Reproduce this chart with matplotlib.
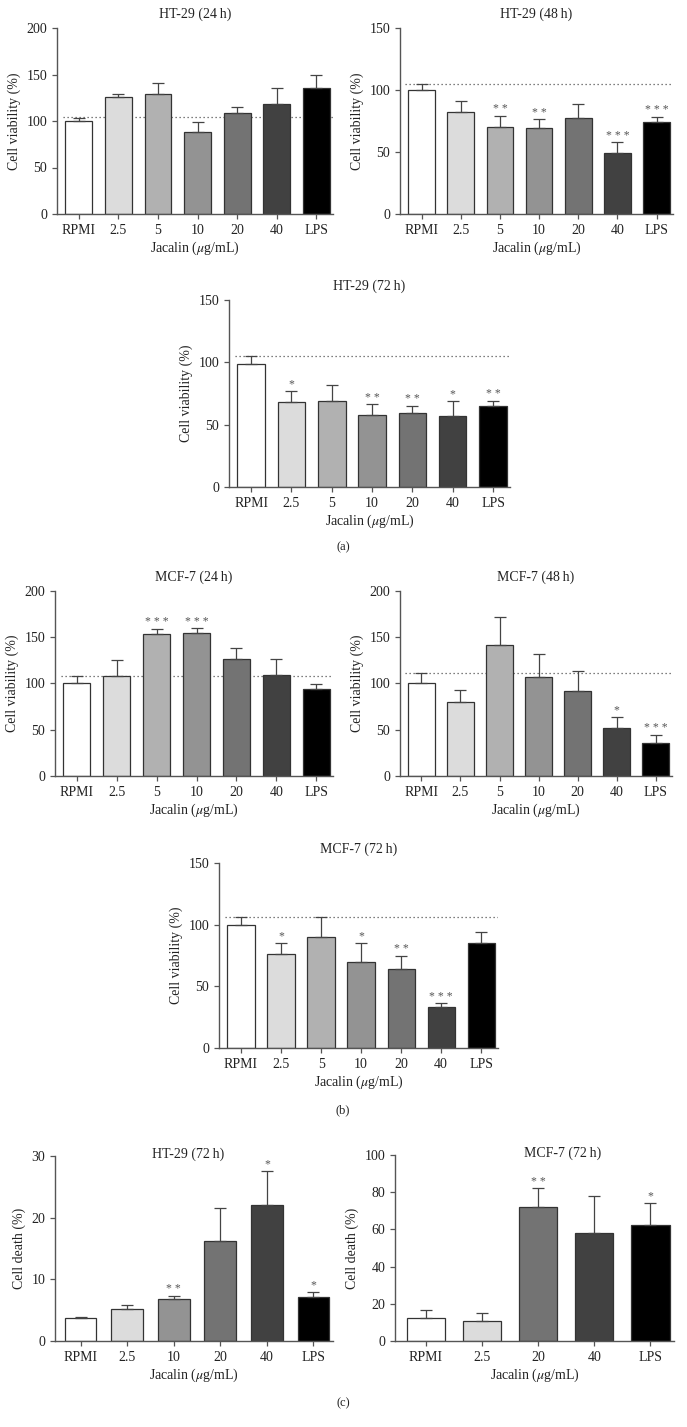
import numpy as np
import matplotlib
matplotlib.use('Agg')
import matplotlib.pyplot as plt

plt.rcParams['font.family'] = ['Liberation Serif', 'DejaVu Serif']
plt.rcParams['mathtext.fontset'] = 'stix'

# categories
cats_v = ['RPMI', '2.5', '5', '10', '20', '40', 'LPS']
cats_d1 = ['RPMI', '2.5', '10', '20', '40', 'LPS']
cats_d2 = ['RPMI', '2.5', '20', '40', 'LPS']

# (a) HT-29 viability
ht29_24_mean = [100, 126, 129, 88, 109, 118, 136]
ht29_24_err = [3, 3, 12, 11, 6, 18, 13]
ht29_24_sig = ['', '', '', '', '', '', '']
ht29_24_ref = 104

ht29_48_mean = [100, 82, 70, 69.5, 77.5, 49, 74.3]
ht29_48_err = [5, 9, 9, 7, 11, 9, 4]
ht29_48_sig = ['', '', '**', '**', '', '***', '***']
ht29_48_ref = 105

ht29_72_mean = [99, 68, 69, 57.5, 59, 57.3, 65]
ht29_72_err = [6, 9, 13, 9, 6, 12, 4]
ht29_72_sig = ['', '*', '', '**', '**', '*', '**']
ht29_72_ref = 105

# (b) MCF-7 viability
mcf7_24_mean = [100, 108, 154, 154.5, 126, 109, 94.3]
mcf7_24_err = [8, 17, 5, 5, 12, 18, 5]
mcf7_24_sig = ['', '', '***', '***', '', '', '']
mcf7_24_ref = 108

mcf7_48_mean = [100, 80, 142, 107, 91.4, 51.6, 35.8]
mcf7_48_err = [11, 13, 30, 25, 22, 12, 9]
mcf7_48_sig = ['', '', '', '', '', '*', '***']
mcf7_48_ref = 111

mcf7_72_mean = [100, 76.2, 90.2, 69.5, 63.8, 33.4, 84.8]
mcf7_72_err = [6, 9, 16, 16, 11, 3, 9]
mcf7_72_sig = ['', '*', '', '*', '**', '***', '']
mcf7_72_ref = 106

# (c) cell death
ht29_death_mean = [3.75, 5.25, 6.77, 16.2, 22, 7.15]
ht29_death_err = [0.2, 0.55, 0.55, 5.3, 5.6, 0.8]
ht29_death_sig = ['', '', '**', '', '*', '*']

mcf7_death_mean = [12.2, 10.6, 72.2, 58.3, 62.5]
mcf7_death_err = [4.5, 4.7, 10, 19.4, 11.8]
mcf7_death_sig = ['', '', '**', '', '*']

shade = {'RPMI': 'white', '2.5': '#dcdcdc', '5': '#b1b1b1', '10': '#939393',
         '20': '#737373', '40': '#414141', 'LPS': '#000000'}

W, H = 687, 1427
fig = plt.figure(figsize=(W / 100, H / 100), dpi=100)


def add_ax(l, r, t, b):
    return fig.add_axes([l / W, 1 - b / H, (r - l) / W, (b - t) / H])


def panel(ax, cats, mean, err, sig, ymax, ystep, title, ylabel, ref=None,
          title_y=None, title_x=0.5):
    x = np.arange(len(cats))
    cols = [shade[c] for c in cats]
    ax.bar(x, mean, width=0.68, color=cols, edgecolor='#333333', linewidth=0.9,
           zorder=2)
    ax.errorbar(x, mean, yerr=[np.zeros(len(mean)), err], fmt='none',
                ecolor='#444444', elinewidth=0.9, capsize=4, capthick=0.9,
                zorder=3)
    for xi, m, e, s in zip(x, mean, err, sig):
        if s:
            ax.text(xi, m + e + ymax * 0.003, ' '.join(s), ha='center',
                    va='bottom', fontsize=8.5, color='#555555')
    if ref is not None:
        ax.axhline(ref, xmin=0.02, xmax=1.0, color='#555555', lw=0.9,
                   ls=(0, (1, 2.2)), zorder=1)
    ax.set_xlim(-0.55, len(cats) - 0.58)
    ax.set_ylim(0, ymax)
    ax.set_yticks(np.arange(0, ymax + 0.1, ystep))
    ax.set_xticks(x)
    ax.set_xticklabels(cats)
    for s in ['top', 'right']:
        ax.spines[s].set_visible(False)
    for s in ['left', 'bottom']:
        ax.spines[s].set_color('#555555')
        ax.spines[s].set_linewidth(1.0)
    ax.tick_params(axis='both', labelsize=10, colors='#555555', labelcolor='#222222',
                   length=3.5, width=0.9, direction='out')
    ax.set_ylabel(ylabel, fontsize=10, color='#222222')
    ax.set_xlabel(r'Jacalin ($\mu$g/mL)', fontsize=10, color='#222222',
                  labelpad=2)
    if title_y is None:
        ax.set_title(title, fontsize=10, color='#222222', pad=7)
    else:
        ax.text(title_x, title_y, title, transform=ax.transAxes, ha='center',
                va='center', fontsize=10, color='#222222')


ylv = 'Cell viability (%)'
yld = 'Cell death (%)'

panel(add_ax(57, 333, 28, 214), cats_v, ht29_24_mean, ht29_24_err, ht29_24_sig,
      200, 50, 'HT-29 (24\u2009h)', ylv, ht29_24_ref)
panel(add_ax(400, 673, 28, 214), cats_v, ht29_48_mean, ht29_48_err, ht29_48_sig,
      150, 50, 'HT-29 (48\u2009h)', ylv, ht29_48_ref)
panel(add_ax(229, 510, 300, 487), cats_v, ht29_72_mean, ht29_72_err, ht29_72_sig,
      150, 50, 'HT-29 (72\u2009h)', ylv, ht29_72_ref)

panel(add_ax(55, 333, 591, 776), cats_v, mcf7_24_mean, mcf7_24_err, mcf7_24_sig,
      200, 50, 'MCF-7 (24\u2009h)', ylv, mcf7_24_ref)
panel(add_ax(400, 672, 591, 776), cats_v, mcf7_48_mean, mcf7_48_err, mcf7_48_sig,
      200, 50, 'MCF-7 (48\u2009h)', ylv, mcf7_48_ref)
panel(add_ax(219, 498, 863, 1048), cats_v, mcf7_72_mean, mcf7_72_err, mcf7_72_sig,
      150, 50, 'MCF-7 (72\u2009h)', ylv, mcf7_72_ref)

panel(add_ax(55, 333, 1156, 1341), cats_d1, ht29_death_mean, ht29_death_err,
      ht29_death_sig, 30, 10, 'HT-29 (72\u2009h)', yld, title_y=1.01,
      title_x=0.48)
panel(add_ax(395, 674, 1155, 1341), cats_d2, mcf7_death_mean, mcf7_death_err,
      mcf7_death_sig, 100, 20, 'MCF-7 (72\u2009h)', yld, title_y=1.01,
      title_x=0.6)

for lab, yy in [('(a)', 547), ('(b)', 1110), ('(c)', 1403)]:
    fig.text(343 / W, 1 - yy / H, lab, ha='center', va='center', fontsize=9,
             color='#222222')

fig.savefig('out.png', dpi=100)
